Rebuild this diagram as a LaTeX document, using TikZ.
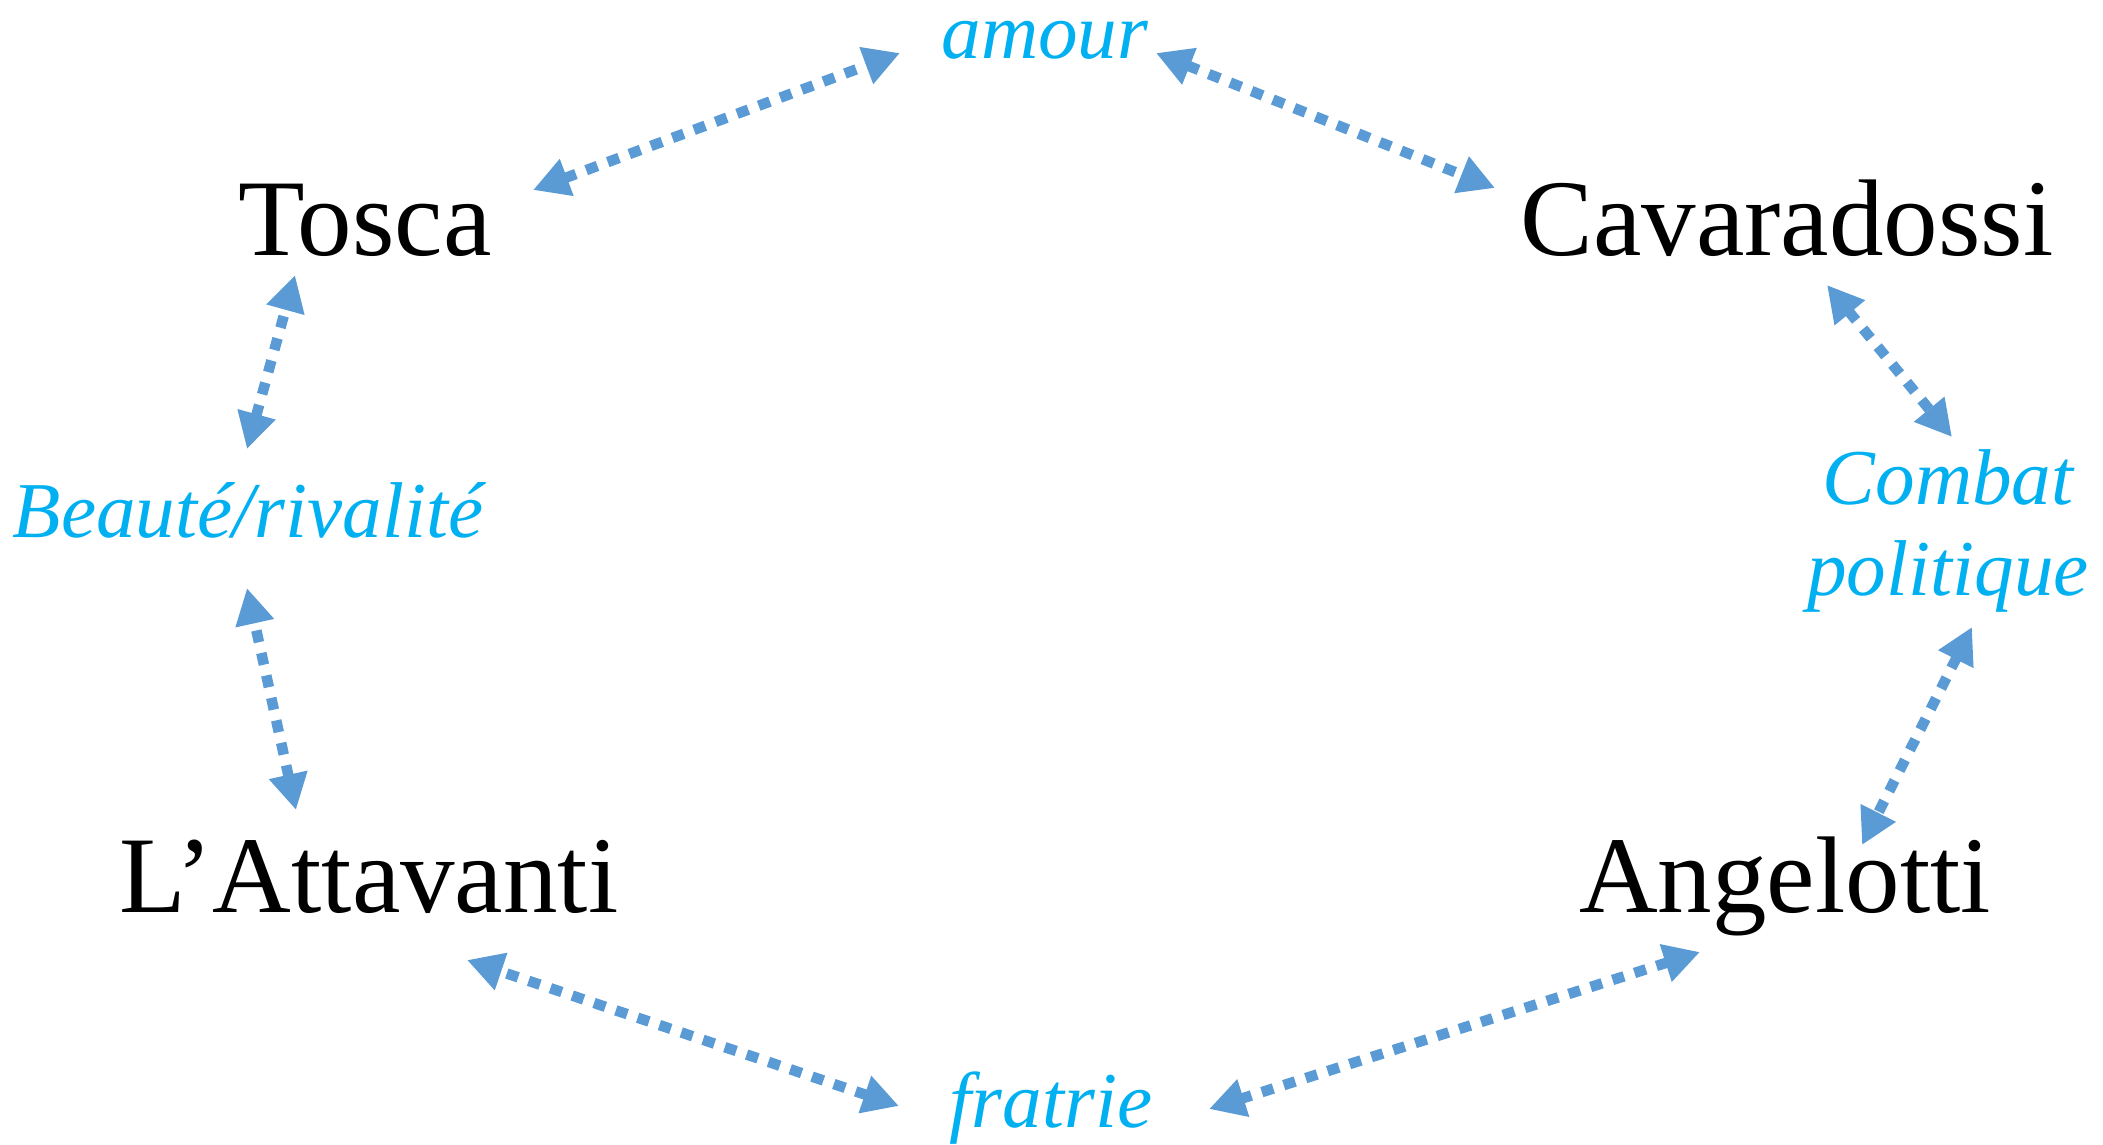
\documentclass[tikz,border=0pt]{standalone}
\usepackage{fontspec}
\setmainfont{Liberation Serif}
\usetikzlibrary{arrows.meta,calc}
\definecolor{arrowblue}{HTML}{5B9BD5}
\definecolor{labelblue}{HTML}{00B0F0}
\tikzset{
  person/.style={anchor=base, inner sep=0pt, font=\fontsize{31}{37}\selectfont, text=black},
  theme/.style={anchor=base, inner sep=0pt, font=\fontsize{22.5}{26}\selectfont\itshape, text=labelblue},
  rel/.style={draw=arrowblue, line width=0.105cm, dash pattern=on 0.12cm off 0.11cm,
    {Triangle[length=0.36cm,width=0.37cm]}-{Triangle[length=0.36cm,width=0.37cm]}}
}
\begin{document}
\begin{tikzpicture}[x=0.01cm, y=-0.01cm]
\useasboundingbox (0,0) rectangle (2103,1144);
% characters
\node[person] (tosca) at (365,255) {Tosca};
\node[person] (cav) at (1787,255) {Cavaradossi};
\node[person] (att) at (369,912) {L’Attavanti};
\node[person] (ang) at (1785,912) {Angelotti};
% themes
\node[theme, text height=1.6ex] (amour) at (1045,58) {amour};
\node[theme] (beaute) at (248,537) {Beauté/rivalité};
\node[theme] (combat) at (1948,504) {\begin{tabular}[t]{@{}c@{}}Combat\\politique\end{tabular}};
\node[theme] (fratrie) at (1051,1127) {fratrie};
% relations
\draw[rel] ($(tosca.base)+(168,-65)$) -- ($(amour.base)+(-145,-5)$);
\draw[rel] ($(amour.base)+(111,-5)$) -- ($(cav.base)+(-292,-67)$);
\draw[rel] ($(cav.base)+(40,30)$) -- ($(combat.base)+(4,-67)$);
\draw[rel] ($(combat.base)+(24,123)$) -- ($(ang.base)+(77,-67)$);
\draw[rel] ($(ang.base)+(-85,40)$) -- ($(fratrie.base)+(158,-18)$);
\draw[rel] ($(fratrie.base)+(-152,-21)$) -- ($(att.base)+(98,48)$);
\draw[rel] ($(att.base)+(-73,-102)$) -- ($(beaute.base)+(-1,51)$);
\draw[rel] ($(beaute.base)+(-1,-88)$) -- ($(tosca.base)+(-70,20)$);
\end{tikzpicture}
\end{document}
